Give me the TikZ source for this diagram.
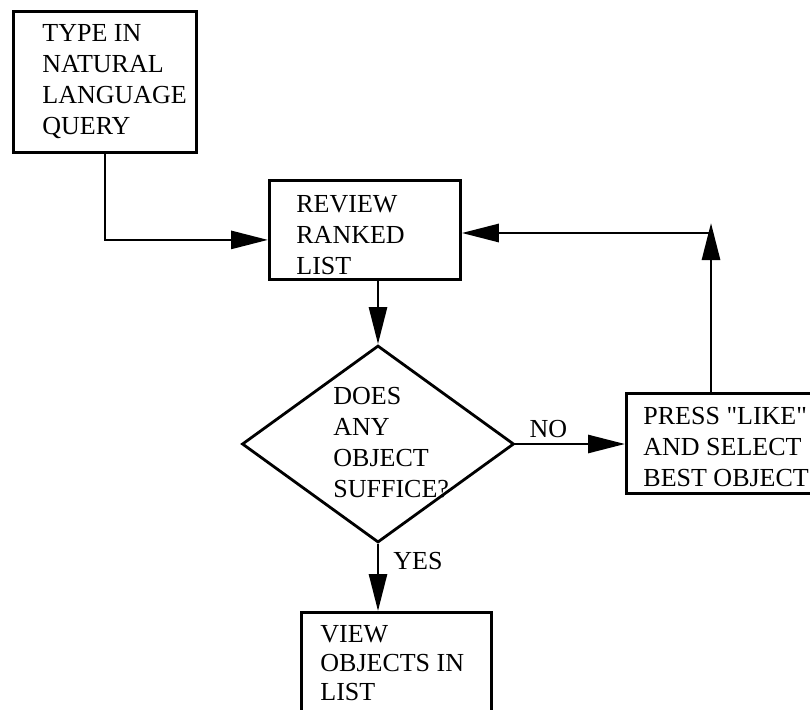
\documentclass[tikz,border=0pt]{standalone}
\usepackage{fontspec}
\setmainfont{Liberation Serif}[Ligatures=TeXOff]
\usetikzlibrary{arrows.meta,shapes.geometric,calc}
\begin{document}
\begin{tikzpicture}[x=1pt,y=-1pt,
  line width=2.8pt,
  boxnode/.style={draw, rectangle, inner sep=0pt, anchor=north west},
  txt/.style={anchor=north west, inner sep=0pt, align=left, font=\fontsize{26}{31}\selectfont},
  lbl/.style={inner sep=0pt, font=\fontsize{26}{31}\selectfont},
  flow/.style={-{Triangle[length=37pt,width=18pt]}}
]
\path[use as bounding box] (0,0) rectangle (810,709);
\clip (0,0) rectangle (810,709);
% boxes
\node[boxnode, minimum width=183pt, minimum height=141pt] (b1) at (12,10) {};
\node[boxnode, minimum width=191pt, minimum height=99pt] (b2) at (268,179) {};
\node[boxnode, minimum width=200pt, minimum height=100pt] (b4) at (625,392) {};
\node[boxnode, minimum width=190pt, minimum height=130pt] (bv) at (300,611) {};
\node[draw, diamond, inner sep=0pt, minimum width=272pt, minimum height=197pt] (d) at (378,444) {};
% texts
\node[txt] (t1) at (41,23) {TYPE IN\\NATURAL\\LANGUAGE\\QUERY};
\node[txt] (t2) at (295,194) {REVIEW\\RANKED\\LIST};
\node[txt] (t4) at (642,406) {PRESS "LIKE"\\AND SELECT\\BEST OBJECT};
\node[txt, font=\fontsize{26}{29}\selectfont] (tv) at (319,624) {VIEW\\OBJECTS IN\\LIST};
\node[txt] (td) at (332,386) {DOES\\ANY\\OBJECT\\SUFFICE?};
% coordinates
\coordinate (up) at (711,223);
\coordinate (corner) at (711,233);
% connectors
\draw[flow] (b1.south) |- ([yshift=-10pt]b2.west);
\draw[flow] (d.north |- b2.south) -- (d.north);
\draw[flow] (d.east) -- node[lbl, pos=0.3, above=5pt]{NO} (b4.west |- d.east);
\draw[flow] (d.south) -- node[lbl, pos=0.1, anchor=north west, xshift=14pt]{YES} (d.south |- bv.north);
\draw[flow] (up |- b4.north) -- (up);
\draw[flow] (corner) -- (corner -| b2.east);
\end{tikzpicture}
\end{document}
